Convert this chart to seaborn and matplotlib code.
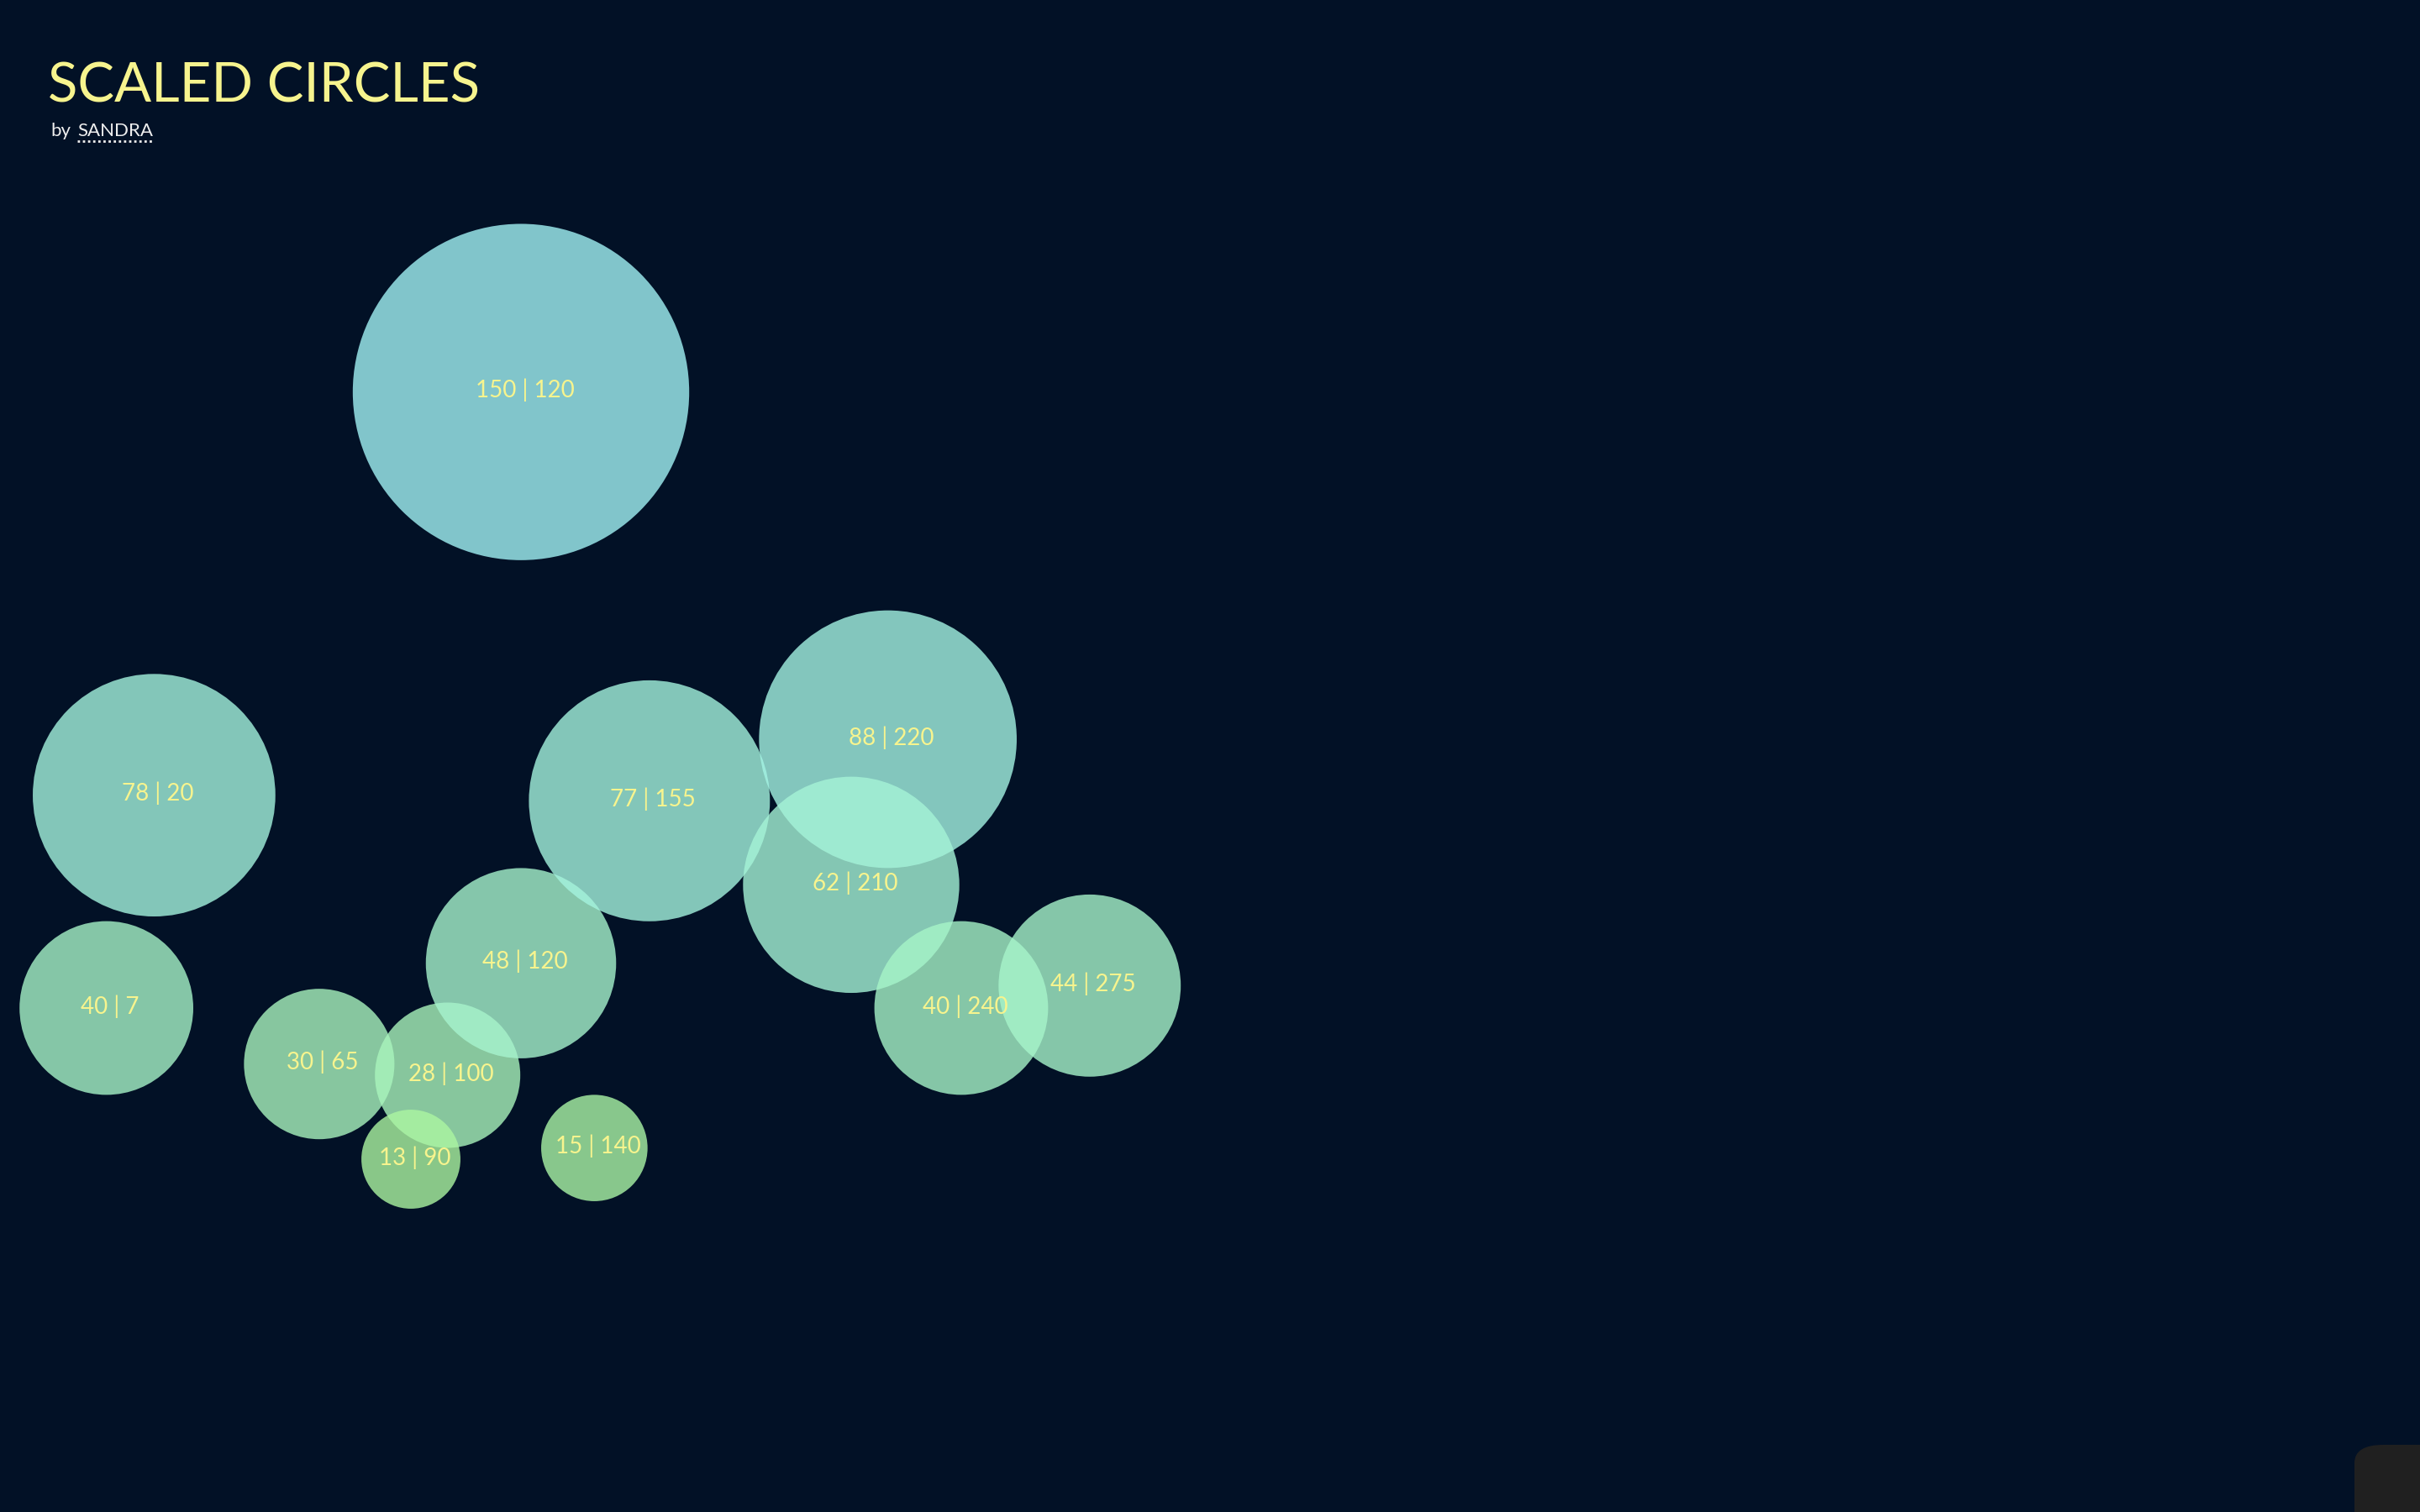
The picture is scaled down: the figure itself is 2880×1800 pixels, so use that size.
import matplotlib
matplotlib.use("Agg")
import matplotlib.pyplot as plt
import matplotlib.colors as mcolors
from matplotlib.patches import FancyBboxPatch
from matplotlib.lines import Line2D
import pandas as pd
import seaborn as sns

# data: first number is the value (y + circle area + colour), second the x position
values = [150, 78, 40, 30, 28, 13, 48, 15, 77, 88, 62, 40, 44]
xs = [120, 20, 7, 65, 100, 90, 120, 140, 155, 220, 210, 240, 275]

title = "SCALED CIRCLES"
author = "SANDRA"

bg = "#021126"
yellow = "#f7f48e"

df = pd.DataFrame({"x": xs, "value": values})

sns.set_theme(style="white")
plt.rcParams["font.family"] = ["Lato", "DejaVu Sans"]

fig = plt.figure(figsize=(28.8, 18), dpi=100, facecolor=bg)
ax = fig.add_axes([0, 0, 1, 1])
ax.set_facecolor(bg)

cmap = mcolors.LinearSegmentedColormap.from_list("gb", ["#acf6a1", "#a2f3f6"])
vmin, vmax = min(values), max(values)
k = 554.0  # points^2 per unit of value
sns.scatterplot(data=df, x="x", y="value", hue="value", size="value",
                palette=cmap, hue_norm=mcolors.LogNorm(vmin, vmax),
                sizes=(k * vmin, k * vmax), size_norm=(vmin, vmax),
                alpha=0.8, linewidth=0, legend=False, ax=ax)

for xv, v in zip(xs, values):
    ax.text(xv + 1, v + 0.3, f"{v} | {xv}", ha="center", va="center",
            color=yellow, fontsize=20, fontweight="normal")

ax.set_xlim(-22, 637.6)
ax.set_ylim(-50, 220)
ax.axis("off")

W, H = 2880, 1800
fig.text(57 / W, 1 - 121 / H, title, color=yellow, fontsize=47,
         fontweight="normal", va="baseline", ha="left")
fig.text(60 / W, 1 - 162 / H, "by", color="#eeeeee", fontsize=16,
         fontweight="normal", va="baseline", ha="left")
fig.text(92 / W, 1 - 162 / H, author, color="#eeeeee", fontsize=16,
         fontweight="normal", va="baseline", ha="left")
fig.add_artist(Line2D([92 / W, 182 / W], [1 - 168 / H, 1 - 168 / H],
                      transform=fig.transFigure, color="#eeeeee",
                      linestyle=(0, (1, 1.2)), linewidth=2))

# small widget in the bottom right corner
fig.add_artist(FancyBboxPatch((2802 / W, -0.05), 0.1, 0.05 + 80 / H,
                              boxstyle="round,pad=0,rounding_size=0.012",
                              transform=fig.transFigure,
                              facecolor="#202020", edgecolor="none"))

fig.savefig("out.png", dpi=100, facecolor=bg)
